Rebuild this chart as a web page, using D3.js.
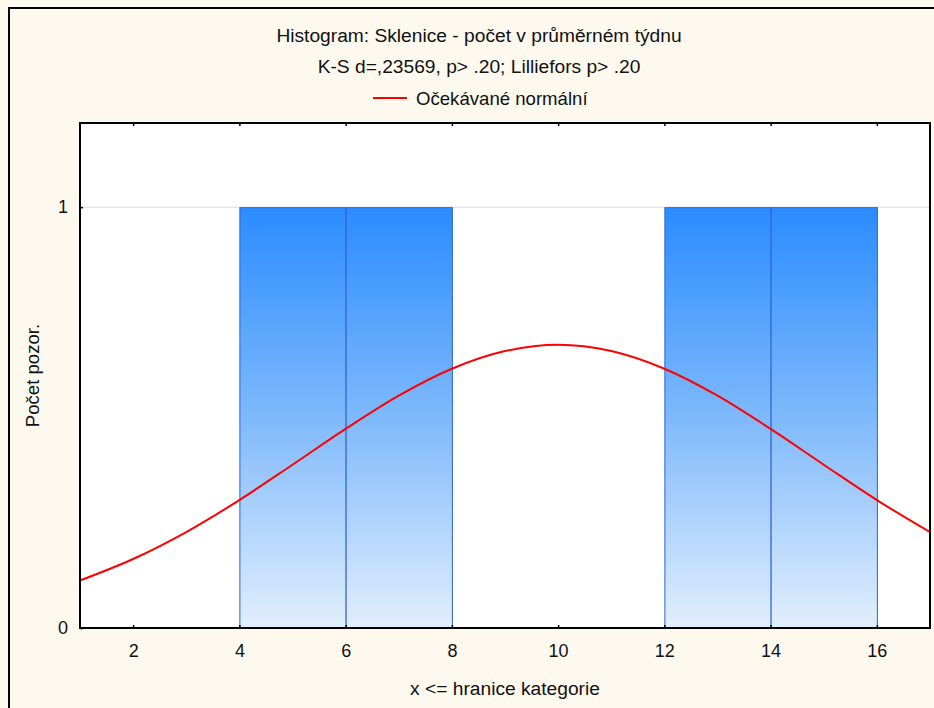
<html lang="cs">
<head>
<meta charset="utf-8">
<title>Histogram: Sklenice</title>
<style>
    body { margin: 0; background: #ffffff; }
    text { font-family: "Liberation Sans", Arial, sans-serif; fill: #111; }
</style>
</head>
<body>
<div id="chart"></div>
<script src="https://cdnjs.cloudflare.com/ajax/libs/d3/7.8.5/d3.min.js"></script>
<script>
    // histogram bins (upper bound "x <=") and counts
    var binStart = [4, 6, 12, 14];
    var binEnd = [6, 8, 14, 16];
    var counts = [1, 1, 1, 1];

    // expected normal curve
    var curveX = [1, 2, 3, 4, 5, 6, 7, 8, 9, 10, 11, 12, 13, 14, 15, 16, 17];
    var curveY = [0.113, 0.164, 0.228, 0.304, 0.388, 0.473, 0.552, 0.616, 0.658, 0.673,
                  0.658, 0.616, 0.552, 0.473, 0.388, 0.304, 0.228];

    var xTicks = [2, 4, 6, 8, 10, 12, 14, 16];
    var yTicks = [0, 1];

    var W = 934, H = 708;
    var plot = {left: 80, right: 930, top: 123, bottom: 628};
    var fs = 18;   // tick labels
    var ts = 19.2; // titles

    var svg = d3.select("#chart").append("svg")
        .attr("width", W).attr("height", H);

    // cream background + outer frame
    svg.append("rect").attr("x", 0).attr("y", 0).attr("width", W).attr("height", H).attr("fill", "#fdf9ef");
    svg.append("path").attr("d", "M9,708 V8 H934").attr("fill", "none").attr("stroke", "#000").attr("stroke-width", 2);

    var x = d3.scaleLinear().domain([1, 17]).range([plot.left, plot.right]);
    var y = d3.scaleLinear().domain([0, 1.2]).range([plot.bottom, plot.top]);

    svg.append("rect")
        .attr("x", plot.left).attr("y", plot.top)
        .attr("width", plot.right - plot.left).attr("height", plot.bottom - plot.top)
        .attr("fill", "#fff");

    var defs = svg.append("defs");
    var grad = defs.append("linearGradient").attr("id", "barGrad")
        .attr("gradientUnits", "userSpaceOnUse")
        .attr("x1", 0).attr("x2", 0).attr("y1", y(1)).attr("y2", y(0));
    grad.append("stop").attr("offset", "0%").attr("stop-color", "#2a8cff");
    grad.append("stop").attr("offset", "50%").attr("stop-color", "#7fb9fb");
    grad.append("stop").attr("offset", "100%").attr("stop-color", "#e2effd");

    // gridline at 1
    svg.append("line")
        .attr("x1", plot.left).attr("x2", plot.right)
        .attr("y1", y(1)).attr("y2", y(1))
        .attr("stroke", "#dddddd").attr("stroke-width", 1);

    // bars
    svg.selectAll("rect.bar")
        .data(counts)
        .enter().append("rect")
        .attr("class", "bar")
        .attr("x", function(d, i) { return x(binStart[i]) + 0.5; })
        .attr("width", function(d, i) { return x(binEnd[i]) - x(binStart[i]); })
        .attr("y", function(d) { return y(d) + 0.5; })
        .attr("height", function(d) { return y(0) - y(d); })
        .attr("fill", "url(#barGrad)")
        .attr("stroke", "#2a62d8")
        .attr("stroke-width", 1);

    // normal curve
    var line = d3.line()
        .x(function(d, i) { return x(curveX[i]); })
        .y(function(d) { return y(d); })
        .curve(d3.curveMonotoneX);

    svg.append("path")
        .datum(curveY)
        .attr("d", line)
        .attr("fill", "none")
        .attr("stroke", "#ff0000")
        .attr("stroke-width", 2);

    // plot frame
    svg.append("rect")
        .attr("x", plot.left).attr("y", plot.top)
        .attr("width", plot.right - plot.left).attr("height", plot.bottom - plot.top)
        .attr("fill", "none").attr("stroke", "#000").attr("stroke-width", 2);

    // axes
    var xAxis = d3.axisBottom(x).tickValues(xTicks).tickSize(-3).tickPadding(16);
    var gx = svg.append("g").attr("transform", "translate(0," + plot.bottom + ")").call(xAxis);
    gx.select(".domain").remove();
    gx.selectAll("text").attr("font-size", fs).attr("font-family", "Liberation Sans, Arial, sans-serif").attr("fill", "#111");
    gx.selectAll("line").attr("stroke", "#000").attr("stroke-width", 1.5);

    var xTop = d3.axisTop(x).tickValues(xTicks).tickSize(-3).tickFormat("");
    var gxt = svg.append("g").attr("transform", "translate(0," + plot.top + ")").call(xTop);
    gxt.select(".domain").remove();
    gxt.selectAll("line").attr("stroke", "#000").attr("stroke-width", 1.5);

    var yAxis = d3.axisLeft(y).tickValues(yTicks).tickSize(-3).tickPadding(12).tickFormat(d3.format("d"));
    var gy = svg.append("g").attr("transform", "translate(" + plot.left + ",0)").call(yAxis);
    gy.select(".domain").remove();
    gy.selectAll("text").attr("font-size", fs).attr("font-family", "Liberation Sans, Arial, sans-serif").attr("fill", "#111");
    gy.selectAll("line").attr("stroke", "#000").attr("stroke-width", 1.5);

    // titles
    var cx = 479;
    svg.append("text").attr("x", cx).attr("y", 42).attr("text-anchor", "middle")
        .attr("font-size", ts).text("Histogram: Sklenice - počet v průměrném týdnu");
    svg.append("text").attr("x", cx).attr("y", 73).attr("text-anchor", "middle")
        .attr("font-size", ts).text("K-S d=,23569, p> .20; Lilliefors p> .20");

    // legend
    svg.append("line").attr("x1", 373).attr("x2", 407).attr("y1", 98).attr("y2", 98)
        .attr("stroke", "#ff0000").attr("stroke-width", 2);
    svg.append("text").attr("x", 416).attr("y", 105).attr("font-size", 18.6).text("Očekávané normální");

    // axis titles
    svg.append("text").attr("x", (plot.left + plot.right) / 2).attr("y", 695)
        .attr("text-anchor", "middle").attr("font-size", ts).text("x <= hranice kategorie");
    svg.append("text")
        .attr("transform", "translate(39," + ((plot.top + plot.bottom) / 2) + ") rotate(-90)")
        .attr("text-anchor", "middle").attr("font-size", 18.6).text("Počet pozor.");
</script>
</body>
</html>
